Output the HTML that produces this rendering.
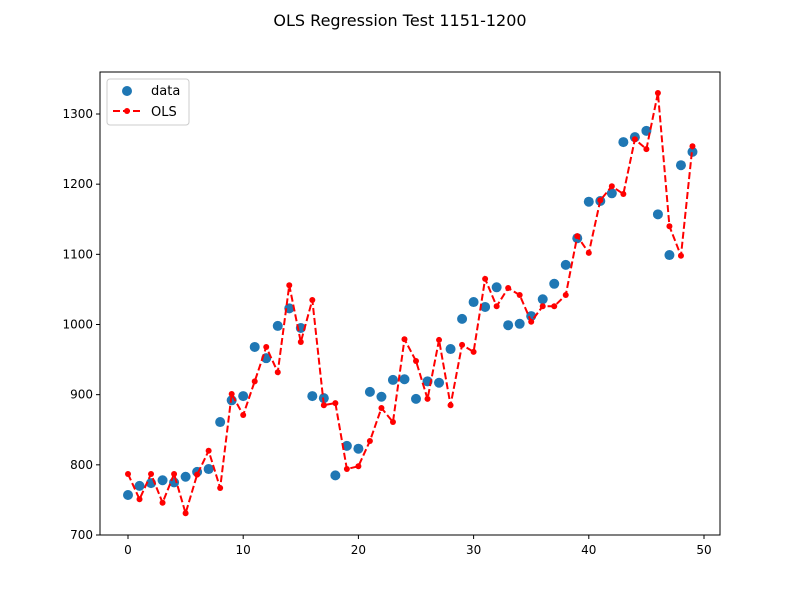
<!DOCTYPE html>
<html><head><meta charset="utf-8"><style>
body{margin:0;background:#fff;}
svg text{font-family:"DejaVu Sans","Liberation Sans",sans-serif;}
</style></head><body>
<svg id="chart" width="800" height="600" xmlns="http://www.w3.org/2000/svg">
<text x="400" y="26" font-size="16" text-anchor="middle">OLS Regression Test 1151-1200</text>
<g id="plot"></g>
</svg>
<script>
const dataVals=[757,770,774,778,775,783,790,794,861,892,898,968,952,998,1023,995,898,895,785,827,823,904,897,921,922,894,919,917,965,1008,1032,1025,1053,999,1001,1012,1036,1058,1085,1123,1175,1176,1187,1260,1267,1276,1157,1099,1227,1246];
const olsVals=[787,751,787,746,787,731,786,820,767,901,871,919,968,932,1056,975,1035,885,888,794,798,834,881,861,979,948,894,978,885,971,961,1065,1026,1052,1042,1004,1026,1026,1042,1126,1102,1177,1197,1186,1264,1250,1330,1140,1098,1254];
const xTicks=[0,10,20,30,40,50];
const yTicks=[700,800,900,1000,1100,1200,1300];
const NS="http://www.w3.org/2000/svg";
const L=100,R=720,T=72,B=535;
const sx=v=>128+v*(704-128)/50;
const sy=v=>535-(v-700)*(535-114)/600;
const g=document.getElementById('plot');
function mk(t,a){const e=document.createElementNS(NS,t);for(const k in a)e.setAttribute(k,a[k]);g.appendChild(e);return e;}
// ticks
xTicks.forEach(t=>{
 const l=mk('line',{x1:sx(t),x2:sx(t),y1:B,y2:B+4,stroke:'#000'});
 
 
 const tx=mk('text',{x:sx(t),y:B+19,'font-size':12,'text-anchor':'middle'});tx.textContent=t;
 
 
});
yTicks.forEach(t=>{
 const l=mk('line',{x1:L-4,x2:L,y1:sy(t),y2:sy(t),stroke:'#000'});
 
 
 const tx=mk('text',{x:L-7,y:sy(t)+4,'font-size':12,'text-anchor':'end'});tx.textContent=t;
 
 
});
// data points
dataVals.forEach((v,i)=>{
 const c=mk('circle',{cx:sx(i),cy:sy(v),r:5,fill:'#1f77b4'});
 
 
});
// OLS line
const pl=mk('polyline',{points:olsVals.map((v,i)=>sx(i)+','+sy(v)).join(' '),fill:'none',stroke:'#ff0000','stroke-width':2,'stroke-dasharray':'7,3'});


olsVals.forEach((v,i)=>{
 const c=mk('circle',{cx:sx(i),cy:sy(v),r:3,fill:'#ff0000'});
 
 
});
// frame
const fr=mk('rect',{x:L,y:T,width:R-L,height:B-T,fill:'none',stroke:'#000','stroke-width':1});


// legend
const lg=mk('rect',{x:107,y:79,width:82,height:46,fill:'#fff',stroke:'#ccc',rx:3});


const ld=mk('circle',{cx:127,cy:91,r:5,fill:'#1f77b4'});


const t1=mk('text',{x:151,y:95,'font-size':13});t1.textContent='data';


const ll=mk('line',{x1:113,x2:141,y1:111,y2:111,stroke:'#ff0000','stroke-width':2,'stroke-dasharray':'7,3'});


const lm=mk('circle',{cx:127,cy:111,r:3,fill:'#ff0000'});


const t2=mk('text',{x:151,y:116,'font-size':13});t2.textContent='OLS';


</script>
</body></html>
